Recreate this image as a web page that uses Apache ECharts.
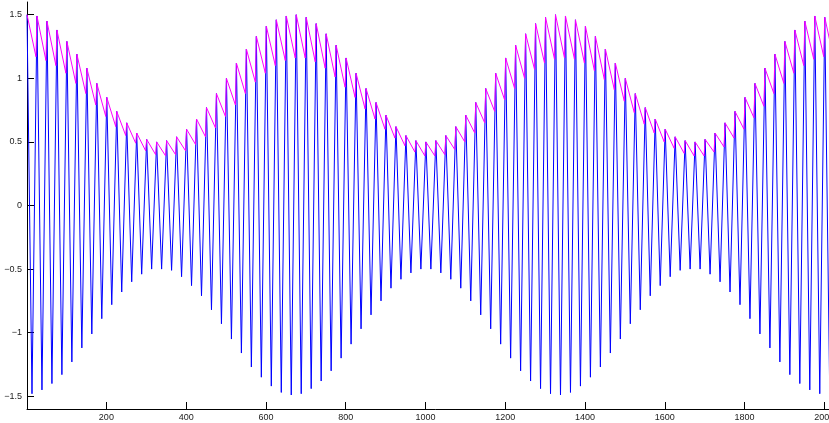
<!DOCTYPE html>
<html>
<head>
<meta charset="utf-8">
<script src="https://cdn.jsdelivr.net/npm/echarts@6/dist/echarts.min.js"></script>
<style>
html,body{margin:0;padding:0;background:#fff;overflow:hidden;}
#chart{width:900px;height:423px;}
</style>
</head>
<body>
<div id="chart"></div>
<script>
// sample index of first carrier peak and carrier period (samples)
const firstPeak = 1;
const samplePeriod = 25;

// peak values of each carrier cycle (blue maxima)
const peaks = [1.50,1.49,1.45,1.38,1.29,1.19,1.08,0.96,0.85,0.74,0.65,0.57,0.52,0.50,0.51,0.54,0.60,0.68,0.77,0.88,
  1.00,1.12,1.23,1.33,1.41,1.46,1.49,1.50,1.48,1.43,1.35,1.26,1.16,1.04,0.92,0.81,0.71,0.62,0.55,0.51,
  0.50,0.51,0.55,0.62,0.71,0.81,0.92,1.04,1.16,1.26,1.35,1.43,1.48,1.50,1.49,1.46,1.41,1.33,1.23,1.12,
  1.00,0.88,0.77,0.68,0.60,0.54,0.51,0.50,0.52,0.57,0.65,0.74,0.85,0.96,1.08,1.19,1.29,1.38,1.45,1.49,
  1.48,1.47];

// trough values of each carrier cycle (blue minima)
const troughs = [-1.48,-1.45,-1.40,-1.33,-1.23,-1.12,-1.01,-0.89,-0.78,-0.68,-0.60,-0.54,-0.50,-0.50,-0.51,-0.56,-0.63,-0.71,-0.82,-0.93,
  -1.05,-1.16,-1.27,-1.35,-1.42,-1.47,-1.49,-1.48,-1.44,-1.38,-1.30,-1.20,-1.09,-0.97,-0.86,-0.75,-0.65,-0.58,-0.53,-0.50,
  -0.50,-0.53,-0.58,-0.65,-0.75,-0.86,-0.97,-1.09,-1.20,-1.30,-1.38,-1.44,-1.48,-1.49,-1.47,-1.42,-1.35,-1.27,-1.16,-1.05,
  -0.93,-0.82,-0.71,-0.63,-0.56,-0.51,-0.50,-0.50,-0.54,-0.60,-0.68,-0.78,-0.89,-1.01,-1.12,-1.23,-1.33,-1.40,-1.45,-1.48,
  -1.48,-1.46];

// envelope detector value just before the next peak (magenta minima)
const envLows = [1.17,1.14,1.10,1.04,0.96,0.88,0.79,0.70,0.62,0.55,0.49,0.43,0.40,0.39,0.40,0.43,0.48,0.54,0.61,0.70,
  0.79,0.88,0.97,1.04,1.10,1.14,1.16,1.16,1.13,1.08,1.01,0.93,0.85,0.76,0.68,0.60,0.53,0.47,0.42,0.39,
  0.39,0.40,0.44,0.50,0.57,0.65,0.74,0.83,0.92,1.00,1.07,1.12,1.15,1.16,1.15,1.12,1.06,0.99,0.91,0.82,
  0.73,0.64,0.57,0.50,0.45,0.41,0.39,0.39,0.42,0.46,0.53,0.60,0.69,0.78,0.88,0.96,1.04,1.10,1.15,1.17,
  1.15,1.14];

const xTicks = [200,400,600,800,1000,1200,1400,1600,1800,2000];
const yTicks = [-1.5,-1,-0.5,0,0.5,1,1.5];

const blue = [];
const magenta = [];
for (let k = 0; k < peaks.length; k++) {
  const xp = firstPeak + samplePeriod * k;
  blue.push([xp, peaks[k]]);
  if (k < troughs.length) blue.push([xp + samplePeriod / 2, troughs[k]]);
  magenta.push([xp, peaks[k]]);
  if (k < envLows.length) magenta.push([xp + samplePeriod - 2.5, envLows[k]]);
}

const fmt = v => (v < 0 ? '\u2212' + String(-v) : String(v));
const lblFont = {fontFamily: 'Liberation Sans, Arial, sans-serif', fontSize: 9, color: '#222'};

const chart = echarts.init(document.getElementById('chart'), null, {renderer: 'canvas'});
chart.setOption({
  animation: false,
  backgroundColor: '#fff',
  grid: {left: 27, top: 2, width: 816.5, height: 407, containLabel: false},
  xAxis: {
    type: 'value', min: 1, max: 2048,
    axisLine: {show: true, onZero: false, lineStyle: {color: '#000', width: 1}},
    axisTick: {show: true, inside: true, length: 7, lineStyle: {color: '#000'}, customValues: xTicks},
    axisLabel: Object.assign({show: true, margin: 4, customValues: xTicks, formatter: fmt}, lblFont),
    splitLine: {show: false}
  },
  yAxis: {
    type: 'value', min: -1.6, max: 1.6,
    axisLine: {show: true, onZero: false, lineStyle: {color: '#000', width: 1}},
    axisTick: {show: true, inside: true, length: 7, lineStyle: {color: '#000'}, customValues: yTicks},
    axisLabel: Object.assign({show: true, margin: 5, customValues: yTicks, formatter: fmt}, lblFont),
    splitLine: {show: false}
  },
  series: [
    {type: 'line', data: blue, showSymbol: false, symbol: 'none', lineStyle: {color: '#0000ff', width: 1}, z: 2},
    {type: 'line', data: magenta, showSymbol: false, symbol: 'none', lineStyle: {color: '#ff00ff', width: 1}, z: 3}
  ]
});
</script>
</body>
</html>
